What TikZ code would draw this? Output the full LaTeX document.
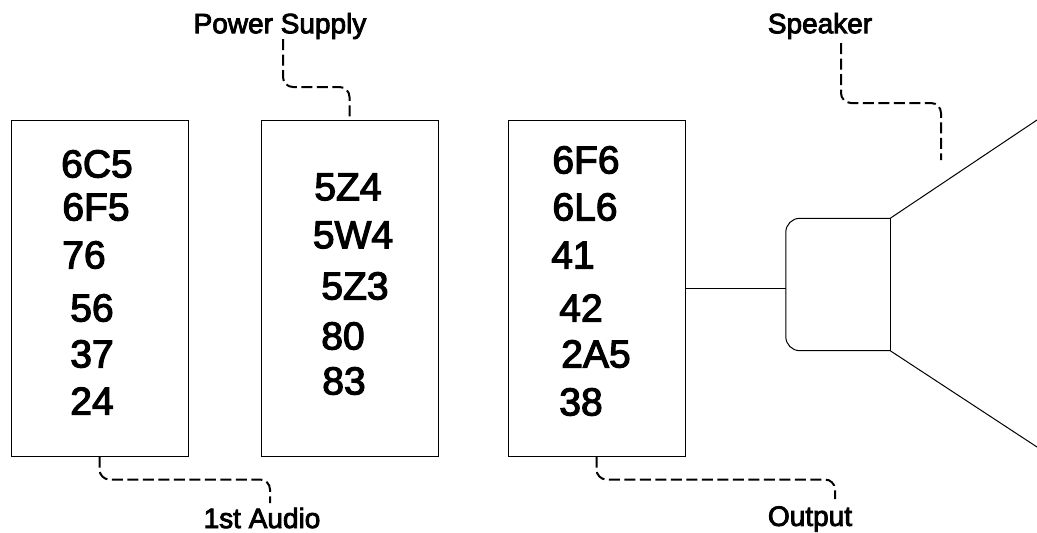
\documentclass[tikz,border=0pt]{standalone}
\usepackage{fontspec}
\setmainfont[FakeBold=3]{Liberation Sans}
\usepackage{xcolor}
\usetikzlibrary{positioning}
\begin{document}
\begin{tikzpicture}[
    x=1pt, y=-1pt,
    every node/.style={inner sep=0pt},
    stage/.style={rectangle, draw, line width=1pt, minimum width=177pt, minimum height=336pt},
    tube/.style={font=\fontsize{39}{39}\selectfont},
    caption/.style={font=\fontsize{28}{28}\selectfont},
    lead/.style={line width=2pt, rounded corners=10pt, dash pattern=on 11pt off 4.5pt},
    wire/.style={line width=1pt}
]
\useasboundingbox (0,0) rectangle (1037,533);
\node[stage] (audio) at (99.5,288) {};
\node[stage] (power) at (349.5,288) {};
\node[stage] (output) at (596.5,288) {};
\node[minimum width=104pt, minimum height=132pt] (magnet) at (838,284.5) {};
\draw[wire, rounded corners=14pt] (magnet.north east) -- (magnet.north west) -- (magnet.south west) -- (magnet.south east);
\draw[wire] (magnet.north east) -- (magnet.south east);
\coordinate (hornup) at (1037,120);
\coordinate (horndown) at (1037,447);
\draw[wire] (magnet.north east) -- (hornup);
\draw[wire] (magnet.south east) -- (horndown);
\draw[wire] (output.east) -- (output.east -| magnet.west);
% tube types
\node[tube] (a1) at (97,164) {6C5};
\node[tube] (a2) at (96,207) {6F5};
\node[tube] (a3) at (84,255) {76};
\node[tube] (a4) at (92,308) {56};
\node[tube] (a5) at (92,354) {37};
\node[tube] (a6) at (92,401) {24};
\node[tube] (p1) at (348,187) {5Z4};
\node[tube] (p2) at (353,235) {5W4};
\node[tube] (p3) at (355,286) {5Z3};
\node[tube] (p4) at (343,336) {80};
\node[tube] (p5) at (344,381) {83};
\node[tube] (o1) at (586,160) {6F6};
\node[tube] (o2) at (585,207) {6L6};
\node[tube] (o3) at (573,255) {41};
\node[tube] (o4) at (581,308) {42};
\node[tube] (o5) at (596,354) {2A5};
\node[tube] (o6) at (581,402) {38};
% captions
\node[caption] (powerlabel) at (280,26) {Power Supply};
\node[caption] (speakerlabel) at (820,26) {Speaker};
\node[caption] (audiolabel) at (262,518) {1st Audio};
\node[caption] (outputlabel) at (810,519) {Output};
\coordinate (powertap) at (283,39);
\coordinate (speakertap) at (841,43);
\coordinate (conetap) at (941,160);
\coordinate (audiotap) at (270,503);
\coordinate (outputtap) at (835,499);
\draw[lead] (powertap) -- ++(0,48) -| (power.north);
\draw[lead] (speakertap) -- ++(0,60) -| (conetap);
\draw[lead] (audio.south) -- ++(0,23) -| (audiotap);
\draw[lead] (output.south) -- ++(0,23) -| (outputtap);
\end{tikzpicture}
\end{document}
